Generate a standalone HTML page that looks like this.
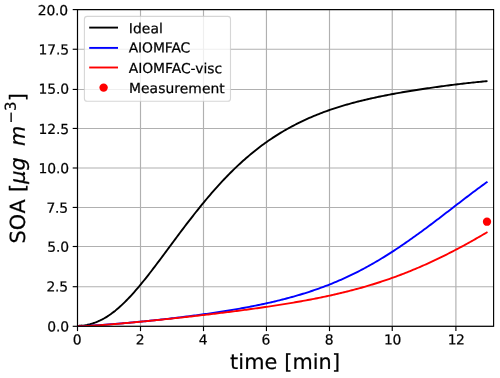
<!DOCTYPE html>
<html><head><meta charset="utf-8"><title>SOA</title>
<style>
html,body{margin:0;padding:0;background:#fff;}
svg{display:block;font-family:"DejaVu Sans","Liberation Sans",sans-serif;}
text{stroke:#000;stroke-width:0.22px;}
.tick text{font-size:13.89px;fill:#000;letter-spacing:-0.15px;}
.leg text{font-size:13.89px;fill:#000;letter-spacing:-0.1px;}
.lab{font-size:20.83px;fill:#000;}
</style></head><body>
<svg width="500" height="378" viewBox="0 0 500 378">
<rect width="500" height="378" fill="#fff"/>
<g stroke="#b0b0b0" stroke-width="1.15" fill="none">
<line x1="77.50" y1="9.6" x2="77.50" y2="326.3"/>
<line x1="140.50" y1="9.6" x2="140.50" y2="326.3"/>
<line x1="203.50" y1="9.6" x2="203.50" y2="326.3"/>
<line x1="266.45" y1="9.6" x2="266.45" y2="326.3"/>
<line x1="329.50" y1="9.6" x2="329.50" y2="326.3"/>
<line x1="392.25" y1="9.6" x2="392.25" y2="326.3"/>
<line x1="455.90" y1="9.6" x2="455.90" y2="326.3"/>
<line x1="77.5" y1="326.30" x2="493.6" y2="326.30"/>
<line x1="77.5" y1="286.70" x2="493.6" y2="286.70"/>
<line x1="77.5" y1="246.50" x2="493.6" y2="246.50"/>
<line x1="77.5" y1="207.45" x2="493.6" y2="207.45"/>
<line x1="77.5" y1="168.00" x2="493.6" y2="168.00"/>
<line x1="77.5" y1="128.45" x2="493.6" y2="128.45"/>
<line x1="77.5" y1="89.45" x2="493.6" y2="89.45"/>
<line x1="77.5" y1="49.25" x2="493.6" y2="49.25"/>
<line x1="77.5" y1="9.60" x2="493.6" y2="9.60"/>
</g>
<clipPath id="ax"><rect x="77.5" y="9.6" width="416.1" height="316.7"/></clipPath>
<g fill="none" stroke-width="1.9" stroke-linecap="butt" stroke-linejoin="round" clip-path="url(#ax)">
<path stroke="#000" d="M77.50 326.30 L79.08 325.81 L80.65 325.71 L82.23 325.57 L83.81 325.39 L85.38 325.16 L86.96 324.88 L88.54 324.55 L90.12 324.17 L91.69 323.73 L93.27 323.24 L94.85 322.70 L96.42 322.10 L98.00 321.45 L99.58 320.74 L101.15 319.98 L102.73 319.16 L104.31 318.28 L105.88 317.35 L107.46 316.37 L109.04 315.33 L110.62 314.23 L112.19 313.08 L113.77 311.88 L115.35 310.63 L116.92 309.33 L118.50 307.97 L120.08 306.57 L121.65 305.13 L123.23 303.63 L124.81 302.09 L126.38 300.51 L127.96 298.89 L129.54 297.23 L131.12 295.53 L132.69 293.79 L134.27 292.02 L135.85 290.22 L137.42 288.38 L139.00 286.52 L140.58 284.62 L142.15 282.70 L143.73 280.76 L145.31 278.79 L146.88 276.80 L148.46 274.79 L150.04 272.76 L151.62 270.72 L153.19 268.66 L154.77 266.59 L156.35 264.51 L157.92 262.42 L159.50 260.32 L161.08 258.21 L162.65 256.09 L164.23 253.97 L165.81 251.85 L167.38 249.72 L168.96 247.60 L170.54 245.47 L172.12 243.35 L173.69 241.23 L175.27 239.11 L176.85 236.99 L178.42 234.88 L180.00 232.78 L181.58 230.68 L183.15 228.60 L184.73 226.52 L186.31 224.45 L187.88 222.39 L189.46 220.34 L191.04 218.31 L192.62 216.29 L194.19 214.28 L195.77 212.28 L197.35 210.30 L198.92 208.34 L200.50 206.38 L202.08 204.45 L203.65 202.53 L205.23 200.63 L206.81 198.75 L208.38 196.88 L209.96 195.03 L211.54 193.20 L213.12 191.39 L214.69 189.60 L216.27 187.83 L217.85 186.08 L219.42 184.35 L221.00 182.63 L222.58 180.94 L224.15 179.27 L225.73 177.62 L227.31 175.99 L228.88 174.38 L230.46 172.79 L232.04 171.22 L233.62 169.67 L235.19 168.14 L236.77 166.64 L238.35 165.15 L239.92 163.69 L241.50 162.25 L243.08 160.83 L244.65 159.42 L246.23 158.04 L247.81 156.68 L249.38 155.35 L250.96 154.03 L252.54 152.73 L254.12 151.45 L255.69 150.19 L257.27 148.96 L258.85 147.74 L260.42 146.54 L262.00 145.36 L263.58 144.20 L265.15 143.06 L266.73 141.94 L268.31 140.84 L269.88 139.75 L271.46 138.69 L273.04 137.64 L274.62 136.61 L276.19 135.60 L277.77 134.60 L279.35 133.62 L280.92 132.66 L282.50 131.72 L284.08 130.79 L285.65 129.88 L287.23 128.98 L288.81 128.10 L290.38 127.23 L291.96 126.38 L293.54 125.55 L295.12 124.73 L296.69 123.92 L298.27 123.13 L299.85 122.36 L301.42 121.59 L303.00 120.84 L304.58 120.11 L306.15 119.38 L307.73 118.67 L309.31 117.98 L310.88 117.29 L312.46 116.62 L314.04 115.96 L315.62 115.31 L317.19 114.67 L318.77 114.04 L320.35 113.43 L321.92 112.83 L323.50 112.23 L325.08 111.65 L326.65 111.08 L328.23 110.52 L329.81 109.97 L331.38 109.42 L332.96 108.89 L334.54 108.37 L336.12 107.85 L337.69 107.35 L339.27 106.85 L340.85 106.37 L342.42 105.89 L344.00 105.42 L345.58 104.95 L347.15 104.50 L348.73 104.05 L350.31 103.61 L351.88 103.18 L353.46 102.75 L355.04 102.34 L356.62 101.92 L358.19 101.52 L359.77 101.12 L361.35 100.73 L362.92 100.35 L364.50 99.97 L366.08 99.59 L367.65 99.22 L369.23 98.86 L370.81 98.51 L372.38 98.15 L373.96 97.81 L375.54 97.47 L377.12 97.13 L378.69 96.80 L380.27 96.47 L381.85 96.15 L383.42 95.83 L385.00 95.52 L386.58 95.21 L388.15 94.90 L389.73 94.60 L391.31 94.30 L392.88 94.01 L394.46 93.72 L396.04 93.43 L397.62 93.15 L399.19 92.87 L400.77 92.59 L402.35 92.31 L403.92 92.04 L405.50 91.78 L407.08 91.51 L408.65 91.25 L410.23 90.99 L411.81 90.73 L413.38 90.48 L414.96 90.23 L416.54 89.98 L418.12 89.73 L419.69 89.49 L421.27 89.24 L422.85 89.00 L424.42 88.77 L426.00 88.53 L427.58 88.30 L429.15 88.07 L430.73 87.84 L432.31 87.61 L433.88 87.39 L435.46 87.16 L437.04 86.94 L438.62 86.73 L440.19 86.51 L441.77 86.30 L443.35 86.08 L444.92 85.87 L446.50 85.67 L448.08 85.46 L449.65 85.26 L451.23 85.06 L452.81 84.86 L454.38 84.66 L455.96 84.47 L457.54 84.27 L459.12 84.08 L460.69 83.90 L462.27 83.71 L463.85 83.53 L465.42 83.35 L467.00 83.17 L468.58 83.00 L470.15 82.83 L471.73 82.66 L473.31 82.49 L474.88 82.33 L476.46 82.17 L478.04 82.01 L479.62 81.86 L481.19 81.71 L482.77 81.57 L484.35 81.42 L485.92 81.29 L487.50 81.15"/>
<path stroke="#0000ff" d="M77.50 326.30 L79.08 326.30 L80.65 326.24 L82.23 326.16 L83.81 326.07 L85.38 325.99 L86.96 325.90 L88.54 325.81 L90.12 325.71 L91.69 325.62 L93.27 325.52 L94.85 325.41 L96.42 325.31 L98.00 325.21 L99.58 325.10 L101.15 324.99 L102.73 324.88 L104.31 324.76 L105.88 324.65 L107.46 324.53 L109.04 324.41 L110.62 324.29 L112.19 324.16 L113.77 324.04 L115.35 323.91 L116.92 323.78 L118.50 323.65 L120.08 323.52 L121.65 323.38 L123.23 323.24 L124.81 323.11 L126.38 322.97 L127.96 322.83 L129.54 322.68 L131.12 322.54 L132.69 322.39 L134.27 322.25 L135.85 322.10 L137.42 321.95 L139.00 321.80 L140.58 321.64 L142.15 321.49 L143.73 321.33 L145.31 321.18 L146.88 321.02 L148.46 320.86 L150.04 320.69 L151.62 320.53 L153.19 320.37 L154.77 320.20 L156.35 320.03 L157.92 319.86 L159.50 319.69 L161.08 319.52 L162.65 319.35 L164.23 319.17 L165.81 319.00 L167.38 318.82 L168.96 318.64 L170.54 318.46 L172.12 318.28 L173.69 318.09 L175.27 317.91 L176.85 317.72 L178.42 317.53 L180.00 317.34 L181.58 317.15 L183.15 316.95 L184.73 316.76 L186.31 316.56 L187.88 316.36 L189.46 316.16 L191.04 315.96 L192.62 315.76 L194.19 315.55 L195.77 315.34 L197.35 315.13 L198.92 314.92 L200.50 314.71 L202.08 314.49 L203.65 314.27 L205.23 314.06 L206.81 313.83 L208.38 313.61 L209.96 313.38 L211.54 313.15 L213.12 312.92 L214.69 312.69 L216.27 312.45 L217.85 312.22 L219.42 311.97 L221.00 311.73 L222.58 311.48 L224.15 311.24 L225.73 310.98 L227.31 310.73 L228.88 310.47 L230.46 310.21 L232.04 309.95 L233.62 309.68 L235.19 309.41 L236.77 309.14 L238.35 308.87 L239.92 308.59 L241.50 308.30 L243.08 308.02 L244.65 307.73 L246.23 307.44 L247.81 307.14 L249.38 306.84 L250.96 306.54 L252.54 306.23 L254.12 305.92 L255.69 305.60 L257.27 305.28 L258.85 304.95 L260.42 304.63 L262.00 304.29 L263.58 303.95 L265.15 303.61 L266.73 303.27 L268.31 302.91 L269.88 302.56 L271.46 302.20 L273.04 301.83 L274.62 301.46 L276.19 301.08 L277.77 300.70 L279.35 300.31 L280.92 299.92 L282.50 299.52 L284.08 299.12 L285.65 298.71 L287.23 298.29 L288.81 297.87 L290.38 297.44 L291.96 297.00 L293.54 296.56 L295.12 296.12 L296.69 295.66 L298.27 295.20 L299.85 294.73 L301.42 294.26 L303.00 293.78 L304.58 293.29 L306.15 292.79 L307.73 292.29 L309.31 291.78 L310.88 291.26 L312.46 290.73 L314.04 290.20 L315.62 289.66 L317.19 289.11 L318.77 288.55 L320.35 287.98 L321.92 287.41 L323.50 286.82 L325.08 286.23 L326.65 285.63 L328.23 285.01 L329.81 284.39 L331.38 283.76 L332.96 283.13 L334.54 282.48 L336.12 281.82 L337.69 281.15 L339.27 280.47 L340.85 279.78 L342.42 279.09 L344.00 278.38 L345.58 277.66 L347.15 276.93 L348.73 276.19 L350.31 275.44 L351.88 274.68 L353.46 273.91 L355.04 273.13 L356.62 272.34 L358.19 271.54 L359.77 270.73 L361.35 269.91 L362.92 269.08 L364.50 268.24 L366.08 267.38 L367.65 266.52 L369.23 265.65 L370.81 264.77 L372.38 263.87 L373.96 262.97 L375.54 262.05 L377.12 261.13 L378.69 260.20 L380.27 259.25 L381.85 258.30 L383.42 257.34 L385.00 256.36 L386.58 255.38 L388.15 254.39 L389.73 253.39 L391.31 252.38 L392.88 251.36 L394.46 250.33 L396.04 249.29 L397.62 248.25 L399.19 247.19 L400.77 246.13 L402.35 245.06 L403.92 243.98 L405.50 242.90 L407.08 241.80 L408.65 240.70 L410.23 239.59 L411.81 238.48 L413.38 237.35 L414.96 236.23 L416.54 235.09 L418.12 233.95 L419.69 232.80 L421.27 231.65 L422.85 230.49 L424.42 229.32 L426.00 228.15 L427.58 226.98 L429.15 225.80 L430.73 224.62 L432.31 223.43 L433.88 222.24 L435.46 221.05 L437.04 219.85 L438.62 218.65 L440.19 217.44 L441.77 216.24 L443.35 215.03 L444.92 213.82 L446.50 212.61 L448.08 211.40 L449.65 210.18 L451.23 208.97 L452.81 207.76 L454.38 206.54 L455.96 205.33 L457.54 204.12 L459.12 202.90 L460.69 201.69 L462.27 200.49 L463.85 199.28 L465.42 198.08 L467.00 196.88 L468.58 195.68 L470.15 194.48 L471.73 193.29 L473.31 192.11 L474.88 190.93 L476.46 189.75 L478.04 188.58 L479.62 187.42 L481.19 186.26 L482.77 185.11 L484.35 183.97 L485.92 182.83 L487.50 181.71"/>
<path stroke="#ff0000" d="M77.50 326.30 L79.08 326.30 L80.65 326.30 L82.23 326.30 L83.81 326.26 L85.38 326.17 L86.96 326.07 L88.54 325.97 L90.12 325.87 L91.69 325.76 L93.27 325.66 L94.85 325.55 L96.42 325.44 L98.00 325.33 L99.58 325.21 L101.15 325.10 L102.73 324.98 L104.31 324.86 L105.88 324.74 L107.46 324.62 L109.04 324.50 L110.62 324.37 L112.19 324.24 L113.77 324.11 L115.35 323.98 L116.92 323.85 L118.50 323.72 L120.08 323.58 L121.65 323.45 L123.23 323.31 L124.81 323.17 L126.38 323.03 L127.96 322.89 L129.54 322.75 L131.12 322.60 L132.69 322.46 L134.27 322.31 L135.85 322.17 L137.42 322.02 L139.00 321.87 L140.58 321.72 L142.15 321.57 L143.73 321.41 L145.31 321.26 L146.88 321.11 L148.46 320.95 L150.04 320.79 L151.62 320.64 L153.19 320.48 L154.77 320.32 L156.35 320.16 L157.92 320.00 L159.50 319.84 L161.08 319.68 L162.65 319.51 L164.23 319.35 L165.81 319.18 L167.38 319.02 L168.96 318.85 L170.54 318.69 L172.12 318.52 L173.69 318.35 L175.27 318.18 L176.85 318.01 L178.42 317.84 L180.00 317.67 L181.58 317.49 L183.15 317.32 L184.73 317.15 L186.31 316.97 L187.88 316.80 L189.46 316.62 L191.04 316.44 L192.62 316.27 L194.19 316.09 L195.77 315.91 L197.35 315.73 L198.92 315.55 L200.50 315.37 L202.08 315.18 L203.65 315.00 L205.23 314.82 L206.81 314.63 L208.38 314.45 L209.96 314.26 L211.54 314.07 L213.12 313.89 L214.69 313.70 L216.27 313.51 L217.85 313.32 L219.42 313.12 L221.00 312.93 L222.58 312.74 L224.15 312.54 L225.73 312.35 L227.31 312.15 L228.88 311.95 L230.46 311.76 L232.04 311.56 L233.62 311.35 L235.19 311.15 L236.77 310.95 L238.35 310.74 L239.92 310.54 L241.50 310.33 L243.08 310.12 L244.65 309.91 L246.23 309.70 L247.81 309.49 L249.38 309.28 L250.96 309.06 L252.54 308.85 L254.12 308.63 L255.69 308.41 L257.27 308.19 L258.85 307.97 L260.42 307.74 L262.00 307.52 L263.58 307.29 L265.15 307.06 L266.73 306.83 L268.31 306.60 L269.88 306.36 L271.46 306.12 L273.04 305.89 L274.62 305.64 L276.19 305.40 L277.77 305.16 L279.35 304.91 L280.92 304.66 L282.50 304.41 L284.08 304.16 L285.65 303.90 L287.23 303.64 L288.81 303.38 L290.38 303.12 L291.96 302.85 L293.54 302.58 L295.12 302.31 L296.69 302.04 L298.27 301.76 L299.85 301.48 L301.42 301.20 L303.00 300.92 L304.58 300.63 L306.15 300.34 L307.73 300.04 L309.31 299.75 L310.88 299.45 L312.46 299.14 L314.04 298.84 L315.62 298.53 L317.19 298.21 L318.77 297.89 L320.35 297.57 L321.92 297.25 L323.50 296.92 L325.08 296.59 L326.65 296.25 L328.23 295.91 L329.81 295.57 L331.38 295.22 L332.96 294.87 L334.54 294.51 L336.12 294.15 L337.69 293.78 L339.27 293.41 L340.85 293.04 L342.42 292.66 L344.00 292.28 L345.58 291.89 L347.15 291.50 L348.73 291.10 L350.31 290.69 L351.88 290.29 L353.46 289.87 L355.04 289.45 L356.62 289.03 L358.19 288.60 L359.77 288.17 L361.35 287.73 L362.92 287.28 L364.50 286.83 L366.08 286.37 L367.65 285.91 L369.23 285.44 L370.81 284.96 L372.38 284.48 L373.96 283.99 L375.54 283.50 L377.12 283.00 L378.69 282.50 L380.27 281.98 L381.85 281.47 L383.42 280.94 L385.00 280.41 L386.58 279.87 L388.15 279.33 L389.73 278.78 L391.31 278.22 L392.88 277.66 L394.46 277.09 L396.04 276.52 L397.62 275.93 L399.19 275.34 L400.77 274.75 L402.35 274.14 L403.92 273.53 L405.50 272.92 L407.08 272.30 L408.65 271.67 L410.23 271.03 L411.81 270.39 L413.38 269.74 L414.96 269.08 L416.54 268.42 L418.12 267.75 L419.69 267.07 L421.27 266.39 L422.85 265.70 L424.42 265.00 L426.00 264.30 L427.58 263.59 L429.15 262.87 L430.73 262.15 L432.31 261.42 L433.88 260.68 L435.46 259.94 L437.04 259.19 L438.62 258.43 L440.19 257.67 L441.77 256.90 L443.35 256.12 L444.92 255.34 L446.50 254.55 L448.08 253.76 L449.65 252.96 L451.23 252.15 L452.81 251.34 L454.38 250.52 L455.96 249.70 L457.54 248.86 L459.12 248.03 L460.69 247.18 L462.27 246.34 L463.85 245.48 L465.42 244.62 L467.00 243.75 L468.58 242.88 L470.15 242.01 L471.73 241.12 L473.31 240.24 L474.88 239.34 L476.46 238.44 L478.04 237.54 L479.62 236.63 L481.19 235.72 L482.77 234.80 L484.35 233.88 L485.92 232.95 L487.50 232.02"/>
</g>
<circle cx="487.0" cy="221.7" r="4.15" fill="#ff0000"/>
<g stroke="#000" stroke-width="1.15" fill="none">
<line x1="77.50" y1="326.3" x2="77.50" y2="331.1"/>
<line x1="140.50" y1="326.3" x2="140.50" y2="331.1"/>
<line x1="203.50" y1="326.3" x2="203.50" y2="331.1"/>
<line x1="266.45" y1="326.3" x2="266.45" y2="331.1"/>
<line x1="329.50" y1="326.3" x2="329.50" y2="331.1"/>
<line x1="392.25" y1="326.3" x2="392.25" y2="331.1"/>
<line x1="455.90" y1="326.3" x2="455.90" y2="331.1"/>
<line x1="72.7" y1="326.30" x2="77.5" y2="326.30"/>
<line x1="72.7" y1="286.70" x2="77.5" y2="286.70"/>
<line x1="72.7" y1="246.50" x2="77.5" y2="246.50"/>
<line x1="72.7" y1="207.45" x2="77.5" y2="207.45"/>
<line x1="72.7" y1="168.00" x2="77.5" y2="168.00"/>
<line x1="72.7" y1="128.45" x2="77.5" y2="128.45"/>
<line x1="72.7" y1="89.45" x2="77.5" y2="89.45"/>
<line x1="72.7" y1="49.25" x2="77.5" y2="49.25"/>
<line x1="72.7" y1="9.60" x2="77.5" y2="9.60"/>
<rect x="77.5" y="9.6" width="416.1" height="316.7"/>
</g>
<g class="tick">
<text transform="translate(77.00 344.5) rotate(0.03)" text-anchor="middle">0</text>
<text transform="translate(140.00 344.5) rotate(0.03)" text-anchor="middle">2</text>
<text transform="translate(203.00 344.5) rotate(0.03)" text-anchor="middle">4</text>
<text transform="translate(265.95 344.5) rotate(0.03)" text-anchor="middle">6</text>
<text transform="translate(329.00 344.5) rotate(0.03)" text-anchor="middle">8</text>
<text transform="translate(392.45 344.5) rotate(0.03)" text-anchor="middle" style="letter-spacing:-0.5px">10</text>
<text transform="translate(456.10 344.5) rotate(0.03)" text-anchor="middle" style="letter-spacing:-0.5px">12</text>
<text transform="translate(68.9 331.5) rotate(0.03)" text-anchor="end">0.0</text>
<text transform="translate(68.0 291.5) rotate(0.03)" text-anchor="end">2.5</text>
<text transform="translate(68.9 251.8) rotate(0.03)" text-anchor="end">5.0</text>
<text transform="translate(68.0 212.8) rotate(0.03)" text-anchor="end">7.5</text>
<text transform="translate(68.9 173.3) rotate(0.03)" text-anchor="end">10.0</text>
<text transform="translate(68.9 134.0) rotate(0.03)" text-anchor="end">12.5</text>
<text transform="translate(68.9 93.8) rotate(0.03)" text-anchor="end">15.0</text>
<text transform="translate(68.9 54.5) rotate(0.03)" text-anchor="end">17.5</text>
<text transform="translate(68.0 15.3) rotate(0.03)" text-anchor="end">20.0</text>
</g>
<text class="lab" transform="translate(285.1 369) rotate(0.03)" text-anchor="middle" style="letter-spacing:0.08px">time [min]</text>
<text class="lab" transform="translate(24.9 243.57) rotate(-90.03)"><tspan x="0 13.42 30.05 44.6 51.62">SOA [</tspan><tspan font-style="oblique" x="59.79 73.08 87 97.67">μg m</tspan><tspan font-size="14.58px" y="-9.1" x="119.97">−</tspan><tspan font-size="15.0px" y="-9.0" x="132.6">3</tspan><tspan y="0" x="142.27">]</tspan></text>
<g class="leg">
<rect x="84.4" y="16.4" width="146.1" height="84.8" rx="2.8" fill="#fff" fill-opacity="0.8" stroke="#ccc" stroke-opacity="0.8" stroke-width="1.1"/>
<line x1="89.2" y1="27.6" x2="118" y2="27.6" stroke="#000" stroke-width="1.9" stroke-linecap="butt"/>
<line x1="89.2" y1="47.9" x2="118" y2="47.9" stroke="#00f" stroke-width="1.9" stroke-linecap="butt"/>
<line x1="89.2" y1="67.5" x2="118" y2="67.5" stroke="#f00" stroke-width="1.9" stroke-linecap="butt"/>
<circle cx="103.6" cy="87.6" r="4.2" fill="#f00"/>
<text transform="translate(128.75 33.2) rotate(0.03)" style="letter-spacing:0.1px">Ideal</text>
<text transform="translate(128.7 52.5) rotate(0.03)">AIOMFAC</text>
<text transform="translate(128.7 73.1) rotate(0.03)" style="letter-spacing:-0.03px">AIOMFAC-visc</text>
<text transform="translate(129.0 93.1) rotate(0.03)" style="letter-spacing:0.05px">Measurement</text>
</g>
</svg>
</body></html>
